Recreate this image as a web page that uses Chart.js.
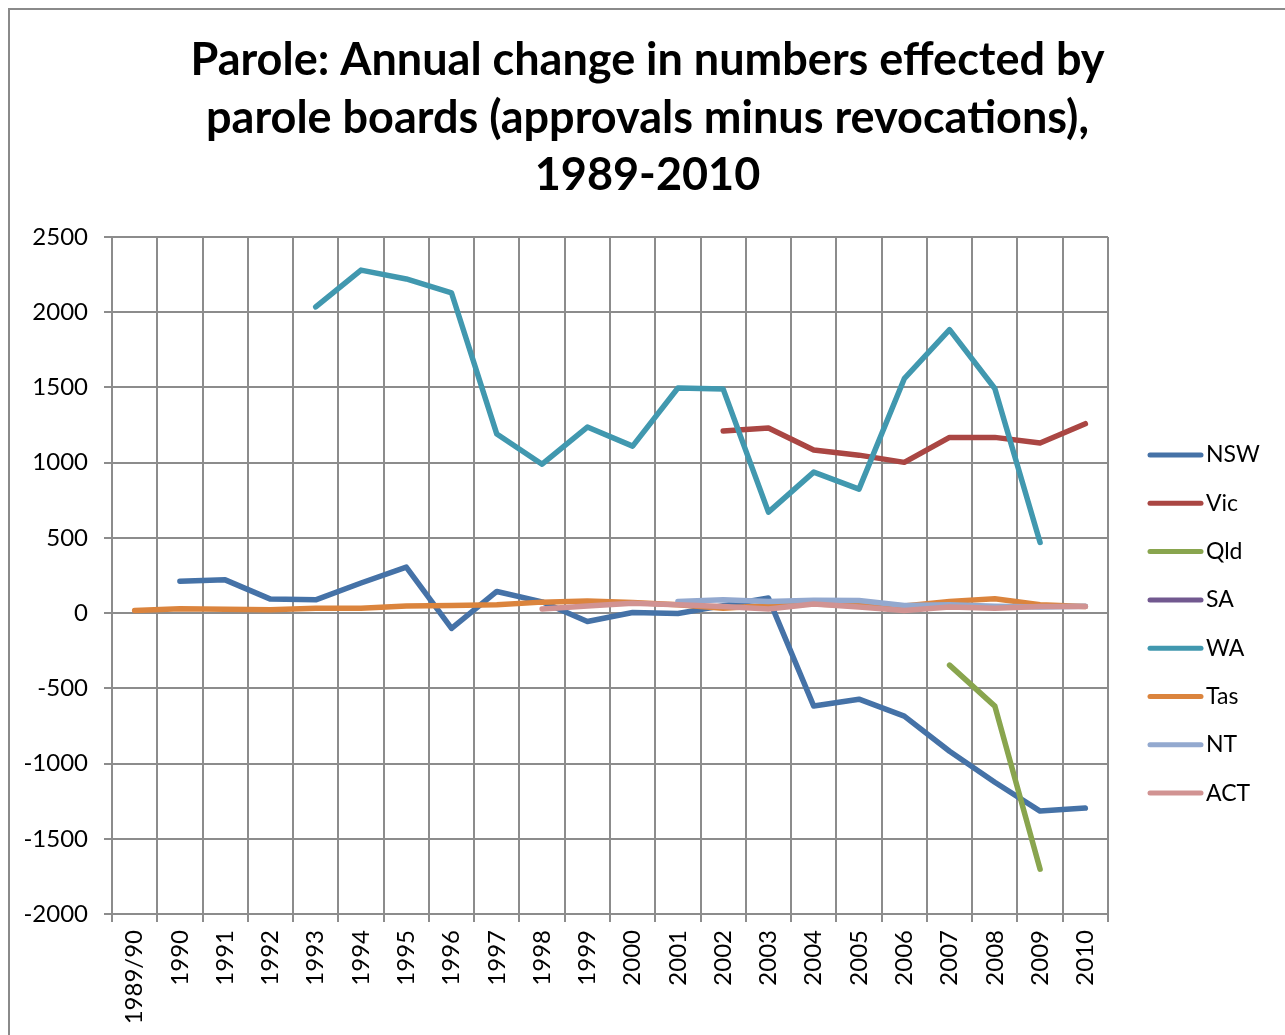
<!DOCTYPE html>
<html>
<head>
<meta charset="utf-8">
<script src="https://cdn.jsdelivr.net/npm/chart.js@4.4.1/dist/chart.umd.min.js"></script>
<style>
  html, body { margin: 0; padding: 0; background: #fff; overflow: hidden; width: 1285px; height: 1035px; }
  #frame { position: absolute; left: 8px; top: 8px; width: 1400px; height: 1200px; border: 2px solid #8a8a8a; box-sizing: border-box; }
  #c { position: absolute; left: 0; top: 0; }
</style>
</head>
<body>
<div id="frame"></div>
<canvas id="c" width="1285" height="1035"></canvas>
<script>
const categories = ['1989/90','1990','1991','1992','1993','1994','1995','1996','1997','1998','1999','2000','2001','2002','2003','2004','2005','2006','2007','2008','2009','2010'];
const titleLines = ['Parole: Annual change in numbers effected by', 'parole boards (approvals minus revocations),', '1989-2010'];
const seriesNames = ['NSW','Vic','Qld','SA','WA','Tas','NT','ACT'];
const nsw = [null, 212, 221, 93, 88, 200, 306, -102, 144, 75, -56, 4, -3, 50, 100, -618, -572, -685, -918, -1124, -1316, -1296];
const vic = [null, null, null, null, null, null, null, null, null, null, null, null, null, 1210, 1230, 1084, 1050, 1002, 1168, 1168, 1131, 1259];
const qld = [null, null, null, null, null, null, null, null, null, null, null, null, null, null, null, null, null, null, -346, -618, -1702, null];
const sa  = [null, null, null, null, null, null, null, null, null, null, null, null, null, null, null, null, null, null, null, null, null, null];
const wa  = [null, null, null, null, 2035, 2280, 2221, 2128, 1190, 990, 1237, 1110, 1496, 1489, 671, 937, 824, 1558, 1884, 1493, 470, null];
const tas = [18, 29, 25, 22, 33, 33, 47, 51, 56, 73, 80, 70, 55, 33, 50, 60, 50, 48, 78, 96, 55, 44];
const nt  = [null, null, null, null, null, null, null, null, null, null, null, null, 77, 88, 77, 85, 84, 51, 55, 45, 40, 45];
const act = [null, null, null, null, null, null, null, null, null, 27, 48, 66, 55, 44, 27, 60, 40, 18, 40, 33, 44, 44];
const yTicks = { min: -2000, max: 2500, step: 500 };

const seriesData = [nsw, vic, qld, sa, wa, tas, nt, act];
const colors = ['#4572A7', '#AA4643', '#89A54E', '#71588F', '#4198AF', '#DB843D', '#93A9CF', '#D19392'];
const FONT = 'Lato, "Open Sans", sans-serif';
const GRID = '#8c8c8c';

const datasets = seriesNames.map((name, i) => ({
  label: name,
  data: seriesData[i],
  borderColor: colors[i],
  backgroundColor: colors[i],
  borderWidth: 5.5,
  borderCapStyle: 'round',
  borderJoinStyle: 'round',
  pointRadius: 0,
  pointHoverRadius: 0,
  tension: 0,
  fill: false,
  spanGaps: false,
  order: seriesNames.length - i
}));

const legendPlugin = {
  id: 'sideLegend',
  afterDraw(chart) {
    const ctx = chart.ctx;
    ctx.save();
    chart.data.datasets.forEach((ds, i) => {
      const y = 455 + i * 48.3;
      ctx.strokeStyle = ds.borderColor;
      ctx.lineWidth = 5;
      ctx.lineCap = 'round';
      ctx.beginPath();
      ctx.moveTo(1150, y);
      ctx.lineTo(1201, y);
      ctx.stroke();
      ctx.fillStyle = '#000';
      ctx.font = '23px ' + FONT;
      ctx.textAlign = 'left';
      ctx.textBaseline = 'middle';
      ctx.fillText(ds.label, 1206, y);
    });
    ctx.restore();
  }
};

new Chart(document.getElementById('c'), {
  type: 'line',
  data: { labels: categories, datasets },
  plugins: [legendPlugin],
  options: {
    responsive: false,
    animation: false,
    events: [],
    layout: { padding: { left: 10, right: 0, top: 0, bottom: 0 } },
    plugins: {
      legend: { display: false },
      tooltip: { enabled: false },
      title: {
        display: true,
        text: titleLines,
        color: '#000',
        font: { family: FONT, weight: 'bold', size: 45, lineHeight: 57.5 / 45 },
        padding: { top: 32, bottom: 32.5 }
      }
    },
    scales: {
      x: {
        type: 'category',
        offset: true,
        afterFit(scale) { scale.height = 121; },
        grid: { offset: true, color: GRID, lineWidth: 2, tickLength: 8, drawTicks: true },
        border: { display: true, color: GRID, width: 2 },
        ticks: {
          color: '#000',
          font: { family: FONT, size: 24 },
          minRotation: 90,
          maxRotation: 90,
          autoSkip: false,
          padding: 8
        }
      },
      y: {
        min: yTicks.min,
        max: yTicks.max,
        afterFit(scale) { scale.width = 102; },
        grid: { color: GRID, lineWidth: 2, tickLength: 8, drawTicks: true },
        border: { display: true, color: GRID, width: 2 },
        ticks: {
          stepSize: yTicks.step,
          color: '#000',
          font: { family: FONT, size: 24 },
          padding: 16,
          callback: (v) => String(v)
        }
      },
      legendSpace: {
        type: 'linear',
        position: 'right',
        display: true,
        afterFit(scale) { scale.width = 177; },
        grid: { display: false, drawTicks: false },
        border: { display: false },
        ticks: { display: false }
      }
    }
  }
});
</script>
</body>
</html>
